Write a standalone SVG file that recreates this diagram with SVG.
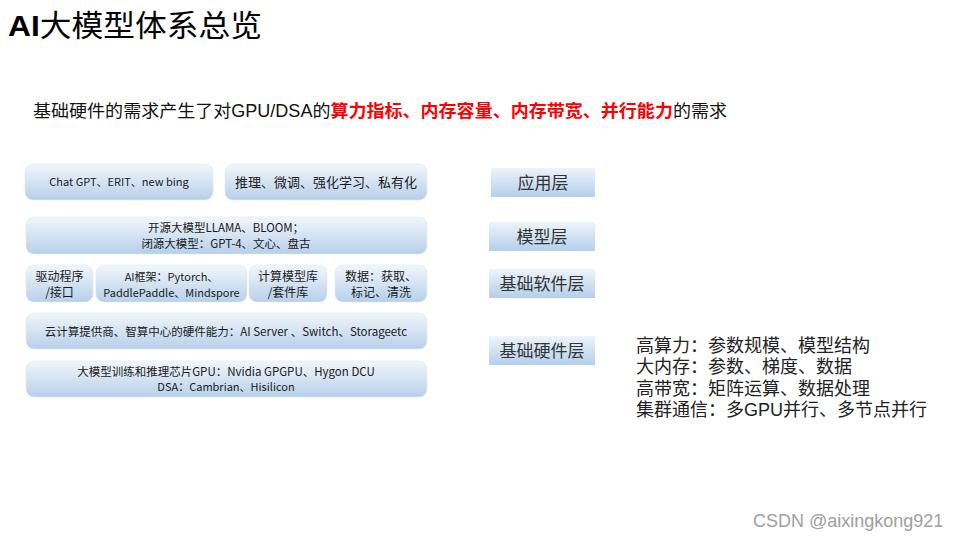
<svg xmlns="http://www.w3.org/2000/svg" width="960" height="540" viewBox="0 0 960 540">
<defs>
<linearGradient id="g" x1="0" y1="0" x2="0" y2="1">
<stop offset="0" stop-color="#f2f6fb"/>
<stop offset="1" stop-color="#b6d0ea"/>
</linearGradient>
<linearGradient id="g2" x1="0" y1="0" x2="0" y2="1">
<stop offset="0" stop-color="#eef4fb"/>
<stop offset="1" stop-color="#b3cfea"/>
</linearGradient>
<style>
.b{fill:url(#g);stroke:#dfe8f3;stroke-width:0.6}
.l{fill:url(#g2)}
.t{font-family:"Noto Sans CJK SC","Liberation Sans",sans-serif;fill:#1a1a1a;text-anchor:middle}
.s{font-family:"Liberation Serif","Noto Sans CJK SC",serif;fill:#333;text-anchor:middle;font-size:17px}
.r{font-family:"Liberation Sans","Noto Sans CJK SC",sans-serif;fill:#222;font-size:18px}
</style>
</defs>
<rect width="960" height="540" fill="#ffffff"/>
<g id="title">
<text x="8" y="36" font-family="Liberation Sans,Noto Sans CJK SC,sans-serif" font-size="30" fill="#000" textLength="254" lengthAdjust="spacingAndGlyphs"><tspan font-weight="bold">AI</tspan><tspan font-family="Noto Sans CJK SC,sans-serif">大模型体系总览</tspan></text>
</g>
<g id="subtitle">
<text x="33" y="117" font-family="Liberation Sans,Noto Sans CJK SC,sans-serif" font-size="17.5" fill="#111" textLength="694" lengthAdjust="spacingAndGlyphs">基础硬件的需求产生了对GPU/DSA的<tspan fill="#ff0000" font-weight="bold">算力指标、内存容量、内存带宽、并行能力</tspan>的需求</text>
</g>
<g id="app1"><rect class="b" x="25" y="164" width="188" height="36" rx="8"/><text class="t" x="119" y="186" font-size="11">Chat GPT、ERIT、new bing</text></g>
<g id="app2"><rect class="b" x="225" y="164" width="202" height="36" rx="8"/><text class="t" x="326" y="187" font-size="13">推理、微调、强化学习、私有化</text></g>
<g id="model"><rect class="b" x="26" y="217" width="401" height="37" rx="8"/><text class="t" x="226" y="232" font-size="11.5">开源大模型LLAMA、BLOOM；</text><text class="t" x="226" y="248" font-size="11.5">闭源大模型：GPT-4、文心、盘古</text></g>
<g id="sw1"><rect class="b" x="26" y="265" width="67" height="37" rx="8"/><text class="t" x="59.5" y="281" font-size="12">驱动程序</text><text class="t" x="59.5" y="297" font-size="12">/接口</text></g>
<g id="sw2"><rect class="b" x="96" y="265" width="151" height="37" rx="8"/><text class="t" x="171.5" y="281" font-size="11">AI框架：Pytorch、</text><text class="t" x="171.5" y="297" font-size="11">PaddlePaddle、Mindspore</text></g>
<g id="sw3"><rect class="b" x="249" y="265" width="78" height="37" rx="8"/><text class="t" x="288" y="281" font-size="12">计算模型库</text><text class="t" x="288" y="297" font-size="12">/套件库</text></g>
<g id="sw4"><rect class="b" x="335" y="265" width="92" height="37" rx="8"/><text class="t" x="381" y="281" font-size="12">数据：获取、</text><text class="t" x="381" y="297" font-size="12">标记、清洗</text></g>
<g id="hw1"><rect class="b" x="26" y="313" width="401" height="36" rx="8"/><text class="t" x="226" y="336" font-size="11.5">云计算提供商、智算中心的硬件能力：AI Server 、Switch、Storageetc</text></g>
<g id="hw2"><rect class="b" x="26" y="361" width="401" height="36" rx="8"/><text class="t" x="226" y="376" font-size="11.5">大模型训练和推理芯片GPU：Nvidia GPGPU、Hygon DCU</text><text class="t" x="226" y="391" font-size="11">DSA：Cambrian、Hisilicon</text></g>
<g id="layer-app"><rect class="l" x="491" y="168" width="104" height="29"/><text class="s" x="543" y="189">应用层</text></g>
<g id="layer-model"><rect class="l" x="489" y="222" width="106" height="29"/><text class="s" x="542" y="243">模型层</text></g>
<g id="layer-sw"><rect class="l" x="489" y="269" width="106" height="29"/><text class="s" x="542" y="290">基础软件层</text></g>
<g id="layer-hw"><rect class="l" x="489" y="336" width="106" height="29"/><text class="s" x="542" y="357">基础硬件层</text></g>
<g id="notes">
<text class="r" x="636" y="352">高算力：参数规模、模型结构</text>
<text class="r" x="636" y="373">大内存：参数、梯度、数据</text>
<text class="r" x="636" y="395">高带宽：矩阵运算、数据处理</text>
<text class="r" x="636" y="416">集群通信：多GPU并行、多节点并行</text>
</g>
<g id="watermark"><text x="753" y="527" font-family="Liberation Sans,sans-serif" font-size="18" fill="#a0a0a0">CSDN @aixingkong921</text></g>
<g id="connectors"></g>
</svg>
